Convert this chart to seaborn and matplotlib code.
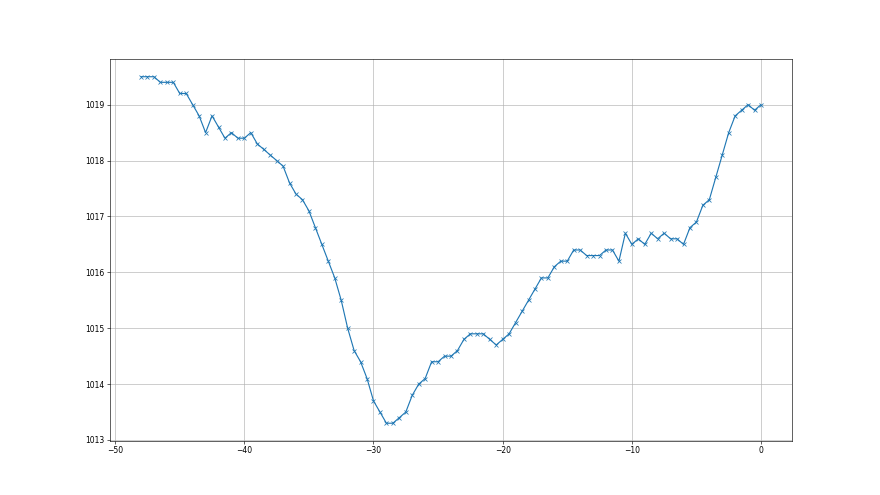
import matplotlib

matplotlib.use("Agg")
import matplotlib.pyplot as plt
import numpy as np
import pandas as pd
import seaborn as sns

# time offsets (half-step) and pressure readings
hours = np.arange(-48, 0.5, 0.5)
pressure = [
    1019.5, 1019.5, 1019.5, 1019.4, 1019.4, 1019.4, 1019.2, 1019.2, 1019.0, 1018.8,
    1018.5, 1018.8, 1018.6, 1018.4, 1018.5, 1018.4, 1018.4, 1018.5, 1018.3, 1018.2,
    1018.1, 1018.0, 1017.9, 1017.6, 1017.4, 1017.3, 1017.1, 1016.8, 1016.5, 1016.2,
    1015.9, 1015.5, 1015.0, 1014.6, 1014.4, 1014.1, 1013.7, 1013.5, 1013.3, 1013.3,
    1013.4, 1013.5, 1013.8, 1014.0, 1014.1, 1014.4, 1014.4, 1014.5, 1014.5, 1014.6,
    1014.8, 1014.9, 1014.9, 1014.9, 1014.8, 1014.7, 1014.8, 1014.9, 1015.1, 1015.3,
    1015.5, 1015.7, 1015.9, 1015.9, 1016.1, 1016.2, 1016.2, 1016.4, 1016.4, 1016.3,
    1016.3, 1016.3, 1016.4, 1016.4, 1016.2, 1016.7, 1016.5, 1016.6, 1016.5, 1016.7,
    1016.6, 1016.7, 1016.6, 1016.6, 1016.5, 1016.8, 1016.9, 1017.2, 1017.3, 1017.7,
    1018.1, 1018.5, 1018.8, 1018.9, 1019.0, 1018.9, 1019.0,
]

df = pd.DataFrame({"t": hours, "p": pressure})

sns.set_style("ticks")
plt.rcParams["font.family"] = ["DejaVu Sans"]

fig, ax = plt.subplots(figsize=(16, 9), dpi=55)
sns.lineplot(
    data=df,
    x="t",
    y="p",
    ax=ax,
    color="C0",
    marker="x",
    markersize=6,
    markeredgecolor="C0",
    markeredgewidth=1.0,
    linewidth=1.5,
)
ax.grid(True, color="#b0b0b0", linewidth=0.8)
ax.set_xlabel("")
ax.set_ylabel("")
ax.tick_params(labelsize=10, colors="black")
for s in ax.spines.values():
    s.set_visible(True)
    s.set_color("black")
    s.set_linewidth(0.8)

plt.savefig("out.png", dpi=55)
